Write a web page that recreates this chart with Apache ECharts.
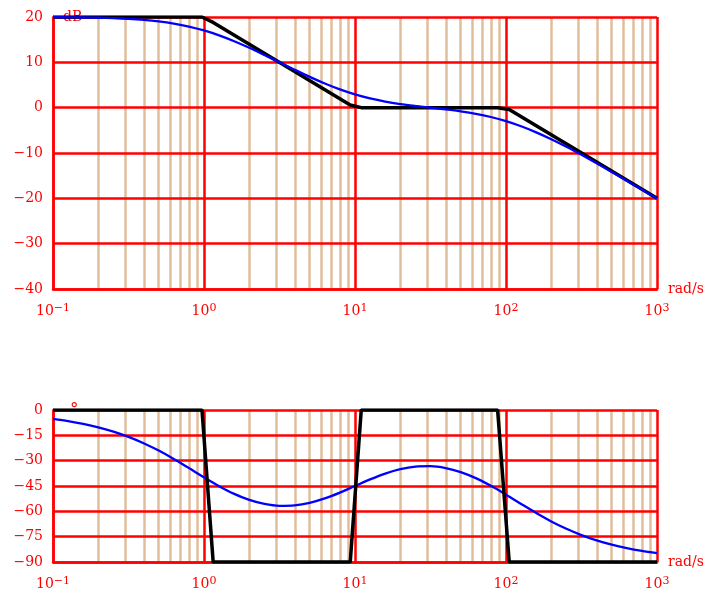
<!DOCTYPE html>
<html>
<head>
<meta charset="utf-8">
<script src="https://cdn.jsdelivr.net/npm/echarts@6/dist/echarts.min.js"></script>
<style>
html,body{margin:0;padding:0;background:#fff;}
#chart{width:711px;height:592px;}
</style>
</head>
<body>
<div id="chart"></div>
<script>
// ---- data ----
var freq = [0.1, 0.1259, 0.1585, 0.1995, 0.2512, 0.3162, 0.3981, 0.5012, 0.631, 0.7943,
  1, 1.259, 1.585, 1.995, 2.512, 3.162, 3.981, 5.012, 6.31, 7.943,
  10, 12.59, 15.85, 19.95, 25.12, 31.62, 39.81, 50.12, 63.1, 79.43,
  100, 125.9, 158.5, 199.5, 251.2, 316.2, 398.1, 501.2, 631, 794.3, 1000];
var magDb = [19.96, 19.93, 19.89, 19.83, 19.74, 19.59, 19.37, 19.04, 18.56, 17.90,
  17.03, 15.94, 14.65, 13.20, 11.62, 10.00, 8.37, 6.79, 5.33, 4.03,
  2.92, 2.03, 1.33, 0.79, 0.37, 0.00, -0.38, -0.81, -1.35, -2.06,
  -2.97, -4.10, -5.44, -6.96, -8.63, -10.41, -12.26, -14.17, -16.11, -18.07, -20.04];
var phaseDeg = [-5.20, -6.53, -8.19, -10.26, -12.81, -15.92, -19.66, -24.04, -29.00, -34.38,
  -39.86, -45.08, -49.65, -53.24, -55.63, -56.72, -56.47, -54.97, -52.36, -48.91,
  -45.00, -41.10, -37.64, -35.04, -33.53, -33.29, -34.37, -36.76, -40.35, -44.92,
  -50.14, -55.63, -61.00, -65.96, -70.34, -74.08, -77.20, -79.75, -81.81, -83.47, -84.81];
var asymW = [0.1, 0.97, 1.15, 9.3, 11, 88, 105, 1000];
var asymMag = [20, 20, 18.8, 0.6, 0, 0, -0.4, -20];
var asymPhase = [0, 0, -90, -90, 0, 0, -90, -90];
var minorW = [0.2, 0.3, 0.4, 0.5, 0.6, 0.7, 0.8, 0.9,
  2, 3, 4, 5, 6, 7, 8, 9,
  20, 30, 40, 50, 60, 70, 80, 90,
  200, 300, 400, 500, 600, 700, 800, 900];
var xTickExps = [-1, 0, 1, 2, 3];
var xTickSup = ['\u22121', '0', '1', '2', '3'];
var magTicks = [-40, -30, -20, -10, 0, 10, 20];
var magTickLabels = ['\u221240', '\u221230', '\u221220', '\u221210', '0', '10', '20'];
var phaseTicks = [-90, -75, -60, -45, -30, -15, 0];
var phaseTickLabels = ['\u221290', '\u221275', '\u221260', '\u221245', '\u221230', '\u221215', '0'];

// ---- styling ----
var RED = '#ff0000';
var TAN = '#e0be9c';
var FONT = 'DejaVu Serif';

function pairs(xs, ys) { return xs.map(function (x, i) { return [x, ys[i]]; }); }

function xLabel(v) {
  var e = Math.round(Math.log(v) / Math.LN10);
  var i = xTickExps.indexOf(e);
  return '{b|10}{s|' + (i >= 0 ? xTickSup[i] : String(e)) + '}';
}
function yLabelFn(ticks, labels) {
  return function (v) {
    var i = ticks.indexOf(Math.round(v));
    return i >= 0 ? labels[i] : String(v);
  };
}

function makeXAxis(gi) {
  return {
    type: 'log', logBase: 10, min: 0.1, max: 1000, gridIndex: gi,
    name: 'rad/s', nameLocation: 'end', nameGap: 11,
    nameTextStyle: { color: RED, fontFamily: FONT, fontSize: 14, padding: [6, 0, 0, 0], verticalAlign: 'middle' },
    axisLine: { show: true, onZero: false, lineStyle: { color: RED, width: 2.5 } },
    axisTick: { show: false },
    splitLine: { show: true, lineStyle: { color: RED, width: 2.5 } },
    axisLabel: {
      show: true, margin: 14, showMinLabel: true, showMaxLabel: true, hideOverlap: false,
      formatter: xLabel, color: RED,
      rich: {
        b: { fontFamily: FONT, fontSize: 14, color: RED, lineHeight: 17 },
        s: { fontFamily: FONT, fontSize: 11, color: RED, lineHeight: 11, verticalAlign: 'top' }
      }
    }
  };
}
function makeYAxis(gi, min, max, interval, ticks, labels, name, size, pad) {
  return {
    type: 'value', gridIndex: gi, min: min, max: max, interval: interval,
    name: name, nameLocation: 'end', nameGap: 0,
    nameTextStyle: { color: RED, fontFamily: FONT, fontSize: size, align: 'left', verticalAlign: 'middle', padding: pad },
    axisLine: { show: true, onZero: false, lineStyle: { color: RED, width: 2.5 } },
    axisTick: { show: false },
    splitLine: { show: true, lineStyle: { color: RED, width: 2.5 } },
    axisLabel: { margin: 10, color: RED, fontFamily: FONT, fontSize: 14, formatter: yLabelFn(ticks, labels) }
  };
}
function minorMarks() {
  return {
    silent: true, z: -1, animation: false,
    symbol: ['none', 'none'],
    label: { show: false },
    lineStyle: { color: TAN, width: 2.5, type: 'solid' },
    emphasis: { disabled: true },
    data: minorW.map(function (v) { return { xAxis: v }; })
  };
}

var chart = echarts.init(document.getElementById('chart'), null, { renderer: 'canvas' });
chart.setOption({
  animation: false,
  backgroundColor: '#fff',
  grid: [
    { left: 53, right: 54, top: 17, height: 272, containLabel: false },
    { left: 53, right: 54, top: 410, height: 152, containLabel: false }
  ],
  xAxis: [makeXAxis(0), makeXAxis(1)],
  yAxis: [
    makeYAxis(0, -40, 20, 10, magTicks, magTickLabels, 'dB', 14, [0, 0, 0, 10]),
    makeYAxis(1, -90, 0, 15, phaseTicks, phaseTickLabels, '\u00b0', 17, [0, 0, 0, 17])
  ],
  series: [
    {
      type: 'line', xAxisIndex: 0, yAxisIndex: 0, data: pairs(asymW, asymMag),
      showSymbol: false, lineStyle: { color: '#000', width: 3.5 }, itemStyle: { color: '#000' },
      z: 2, silent: true, markLine: minorMarks()
    },
    {
      type: 'line', xAxisIndex: 0, yAxisIndex: 0, data: pairs(freq, magDb),
      showSymbol: false, smooth: 0.3, lineStyle: { color: '#0000ff', width: 2.3 }, itemStyle: { color: '#0000ff' },
      z: 3, silent: true
    },
    {
      type: 'line', xAxisIndex: 1, yAxisIndex: 1, data: pairs(freq, phaseDeg),
      showSymbol: false, smooth: 0.3, lineStyle: { color: '#0000ff', width: 2.3 }, itemStyle: { color: '#0000ff' },
      z: 2, silent: true, markLine: minorMarks()
    },
    {
      type: 'line', xAxisIndex: 1, yAxisIndex: 1, data: pairs(asymW, asymPhase),
      showSymbol: false, lineStyle: { color: '#000', width: 3.5 }, itemStyle: { color: '#000' },
      z: 3, silent: true
    }
  ]
});
</script>
</body>
</html>
